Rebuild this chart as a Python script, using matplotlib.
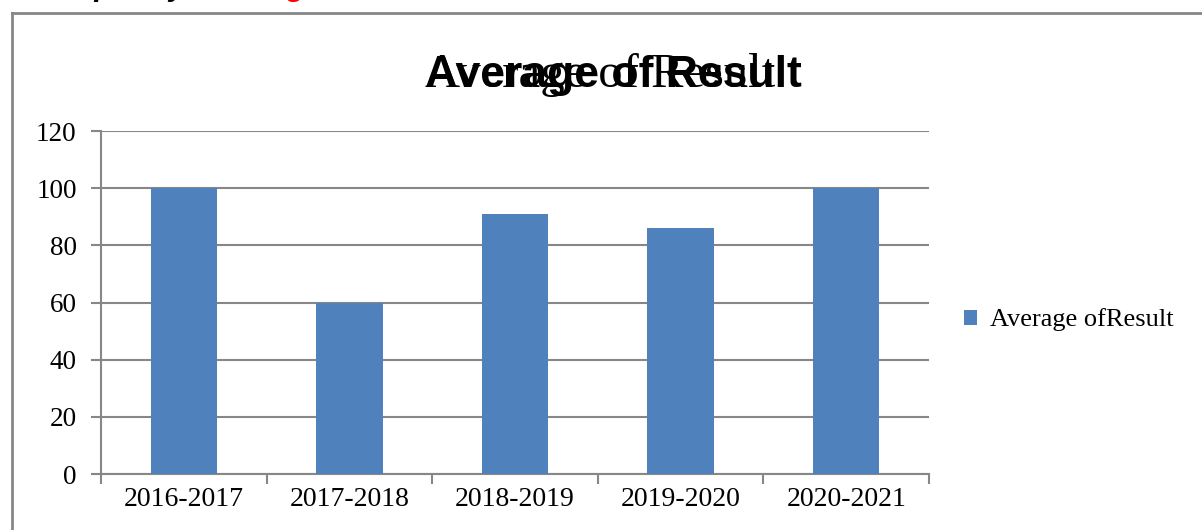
import matplotlib
matplotlib.use("Agg")
import matplotlib.pyplot as plt
from matplotlib.lines import Line2D

# data
years = ["2016-2017", "2017-2018", "2018-2019", "2019-2020", "2020-2021"]
avg_result = [100, 60, 91, 86, 100]
y_ticks = [0, 20, 40, 60, 80, 100, 120]
series_name = "Average ofResult"
title_text = "Average of Result"

W, H = 1202, 530
fig = plt.figure(figsize=(W / 100, H / 100), dpi=100)
GRAY = "#878787"
BLUE = "#4F81BD"
serif = ["Liberation Serif", "DejaVu Serif"]
sans = ["Liberation Sans", "DejaVu Sans"]

ax = fig.add_axes([101 / W, 1 - 474 / H, (929 - 101) / W, (474 - 131) / H])
x = list(range(len(years)))
ax.bar(x, avg_result, width=0.4, color=BLUE, zorder=3, label=series_name)

ax.set_xlim(-0.5, len(years) - 0.5)
ax.set_ylim(0, 120)
ax.set_yticks(y_ticks)
ax.set_yticklabels([str(v) for v in y_ticks], fontfamily=serif, fontsize=19.5)
ax.yaxis.grid(True, color=GRAY, linewidth=1.5, zorder=0)
ax.set_axisbelow(True)

# category boundary ticks, labels centred on the bars
ax.set_xticks([i - 0.5 for i in range(len(years) + 1)])
ax.set_xticklabels([])
ax.set_xticks(x, minor=True)
ax.set_xticklabels(years, minor=True, fontfamily=serif, fontsize=20)
ax.tick_params(axis="x", which="major", direction="out", length=7.5, width=1.5, color=GRAY)
ax.tick_params(axis="x", which="minor", length=0, pad=9)
ax.tick_params(axis="y", direction="out", length=7.5, width=1.5, color=GRAY, pad=10)

for s in ["top", "right"]:
    ax.spines[s].set_visible(False)
for s in ["left", "bottom"]:
    ax.spines[s].set_color(GRAY)
    ax.spines[s].set_linewidth(1.5)

# doubled title, as in the reference (bold sans over a serif copy)
tx, ty = 425 / W, 1 - 87 / H
fig.text(tx, ty, title_text, ha="left", va="baseline", fontsize=32,
         fontweight="bold", family=sans)
fig.text(tx, ty, title_text, ha="left", va="baseline", fontsize=35,
         family=serif)

leg = ax.legend(loc="center left", bbox_to_anchor=(940 / W, 1 - 320 / H),
                bbox_transform=fig.transFigure, frameon=False,
                handlelength=0.5, handleheight=0.5, handletextpad=0.5,
                prop={"family": serif, "size": 19})

# outer chart border (top and left edges visible)
fig.add_artist(Line2D([12 / W, 1], [1 - 13 / H, 1 - 13 / H], color=GRAY, linewidth=2,
                      transform=fig.transFigure))
fig.add_artist(Line2D([12 / W, 12 / W], [0, 1 - 13 / H], color=GRAY, linewidth=2,
                      transform=fig.transFigure))

# heading text cut off at the top of the picture
fig.text(42 / W, 1 + 5 / H, "Output by", ha="left", va="baseline",
         fontsize=22, fontstyle="italic", fontweight="bold", color="black",
         family=sans)
fig.text(186 / W, 1 + 5 / H, ", Average of Result", ha="left", va="baseline",
         fontsize=22, fontstyle="italic", fontweight="bold", color="red",
         family=sans)

fig.savefig("out.png", dpi=100)
